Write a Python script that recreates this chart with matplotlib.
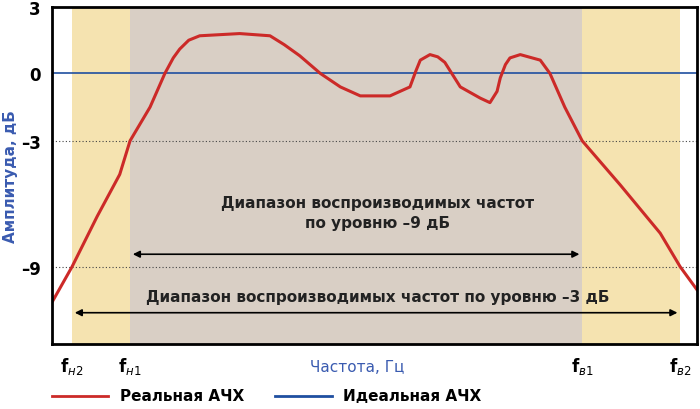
import matplotlib
matplotlib.use("Agg")
import matplotlib.pyplot as plt
import numpy as np

# frequency in arbitrary units (0..100 across the plot), amplitude in dB
freq = [0, 3.1, 7.0, 10.5, 12.1, 15.2, 17.5, 18.8, 19.8, 21.2, 22.9, 29.1, 33.8, 36.0,
        38.4, 41.6, 44.7, 47.8, 52.4, 55.5, 56.4, 57.1, 58.6, 59.8, 60.9, 63.3, 66.4,
        67.9, 69.0, 69.5, 70.3, 71.0, 72.6, 75.7, 77.2, 79.5, 82.2, 88.1, 94.3, 97.4, 100]
gain_db = [-10.7, -9.0, -6.6, -4.6, -3.0, -1.5, 0.0, 0.7, 1.1, 1.5, 1.7, 1.8, 1.7, 1.3,
           0.8, 0.0, -0.6, -1.0, -1.0, -0.6, 0.1, 0.6, 0.85, 0.75, 0.5, -0.6, -1.1,
           -1.3, -0.8, -0.2, 0.4, 0.7, 0.85, 0.6, 0.0, -1.5, -3.0, -5.1, -7.4, -9.0, -10.1]
f_n2, f_n1, f_v1, f_v2 = 3.1, 12.1, 82.2, 97.4
tick_labels = ["f$_{н2}$", "f$_{н1}$", "f$_{в1}$", "f$_{в2}$"]

# the vertical scale is not linear in the original
db_pts = [-12.7, -9, -3, 0, 3]
pos_pts = [0, 79, 208, 277, 345]
fwd = lambda v: np.interp(v, db_pts, pos_pts)
inv = lambda p: np.interp(p, pos_pts, db_pts)

fig = plt.figure(figsize=(7, 4.1), dpi=100)
ax = fig.add_axes([52 / 700, 65 / 410, 645 / 700, 337 / 410])
ax.set_yscale("function", functions=(fwd, inv))
ax.set_xlim(0, 100)
ax.set_ylim(-12.7, 3)

ax.axvspan(f_n2, f_n1, color="#f5e3b0", lw=0)
ax.axvspan(f_v1, f_v2, color="#f5e3b0", lw=0)
ax.axvspan(f_n1, f_v1, color="#d9cfc5", lw=0)

ax.axhline(0, color="#1f4fa0", lw=1.2)
for y in (-3, -9):
    ax.axhline(y, color="#444444", lw=0.8, ls=(0, (1, 2)))
ax.plot(freq, gain_db, color="#cc2a28", lw=2.2, solid_joinstyle="round")

ax.annotate("", xy=(f_n1, -8.4), xytext=(f_v1, -8.4),
            arrowprops=dict(arrowstyle="<|-|>", color="black", lw=1.2, mutation_scale=10))
ax.annotate("", xy=(f_n2, -11.2), xytext=(f_v2, -11.2),
            arrowprops=dict(arrowstyle="<|-|>", color="black", lw=1.2, mutation_scale=10))
ax.text(50.5, -6.4, "Диапазон воспроизводимых частот\nпо уровню \u20139 дБ", ha="center",
        va="center", fontsize=11, fontweight="bold", color="#222222", linespacing=1.4)
ax.text(50.5, -10.4, "Диапазон воспроизводимых частот по уровню \u20133 дБ", ha="center",
        va="center", fontsize=11, fontweight="bold", color="#222222")

ax.set_yticks([3, 0, -3, -9])
ax.set_yticklabels(["3", "0", "\u20133", "\u20139"], fontsize=12, fontweight="bold")
ax.set_xticks([f_n2, f_n1, f_v1, f_v2])
ax.set_xticklabels(tick_labels, fontsize=12, fontweight="bold")
ax.tick_params(length=0, pad=8)
ax.set_ylabel("Амплитуда, дБ", color="#3a5bb0", fontsize=11, fontweight="bold", labelpad=2)
for s in ax.spines.values():
    s.set_linewidth(2)
fig.text(0.51, 1 - 368 / 410, "Частота, Гц", ha="center", va="center",
         color="#3a5bb0", fontsize=11)

fig.lines.append(plt.Line2D([52 / 700, 108 / 700], [13 / 410] * 2, color="#cc2a28", lw=2, transform=fig.transFigure))
fig.text(120 / 700, 13 / 410, "Реальная АЧХ", va="center", fontsize=11, fontweight="bold")
fig.lines.append(plt.Line2D([275 / 700, 332 / 700], [13 / 410] * 2, color="#1f4fa0", lw=2, transform=fig.transFigure))
fig.text(343 / 700, 13 / 410, "Идеальная АЧХ", va="center", fontsize=11, fontweight="bold")

fig.savefig("out.png", dpi=100)
